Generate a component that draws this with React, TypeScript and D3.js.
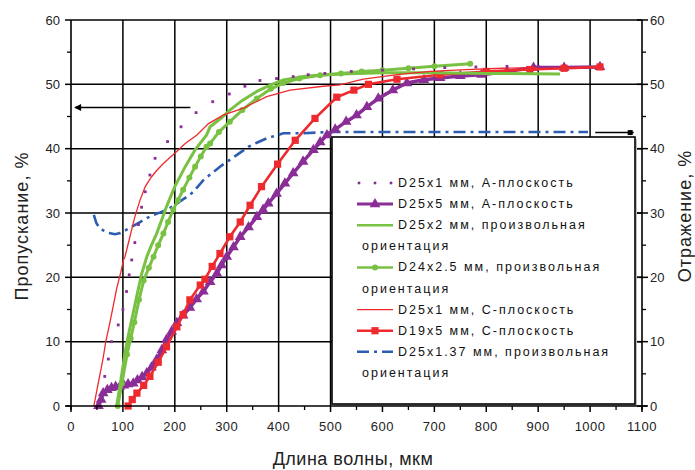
import React from 'react';
import * as d3 from 'd3';

// ---- axis ticks ----
const xTicks = [0, 100, 200, 300, 400, 500, 600, 700, 800, 900, 1000, 1100];
const yTicks = [0, 10, 20, 30, 40, 50, 60];
const xMinor = [50, 150, 250, 350, 450, 550, 650, 750, 850, 950, 1050];
const yMinor = [5, 15, 25, 35, 45, 55];

// ---- series: D25x1 мм, А-плоскость (dots) ----
const aDotWl = [59, 65, 72, 78, 91, 100, 107, 112, 117, 123, 130, 136, 143, 152, 162, 186, 212, 241, 273, 305, 335, 364, 396, 428, 457, 489, 540, 600, 660, 720, 780, 840, 900];
const aDotT = [2, 4.6, 7.3, 10, 12.6, 15, 17.8, 20.4, 22.7, 25.4, 28.2, 30.9, 33.3, 35.9, 38.5, 41.1, 43.4, 45.6, 47.3, 48.5, 49.7, 50.6, 50.9, 51.2, 51.5, 51.7, 52, 52.2, 52.4, 52.6, 52.7, 52.8, 52.8];

// ---- D25x5 мм, А-плоскость (triangles) ----
const aTriWl = [53, 58, 62, 70, 78, 86, 94, 102, 110, 120, 128, 137, 146, 155, 165, 175, 184, 194, 204, 216, 229, 242, 255, 268, 281, 290, 300, 313, 326, 342, 358, 370, 380, 396, 412, 428, 447, 467, 480, 493, 509, 530, 550, 570, 592, 620, 647, 680, 711, 750, 791, 840, 891, 950, 1019];
const aTriT = [0, 1, 2, 2.5, 2.8, 3, 3, 3.2, 3.4, 3.5, 4, 4.5, 5.1, 6, 7.2, 8.7, 10.3, 11.6, 12.9, 14.1, 15.3, 16.6, 17.8, 19.3, 20.6, 21.9, 23.2, 24.7, 26.3, 27.8, 29.4, 30.5, 31.5, 33, 34.6, 36.2, 38, 39.8, 41, 42.1, 43, 44.2, 45.2, 46.5, 47.8, 49.1, 50.2, 50.7, 51, 51.3, 51.5, 52, 52.6, 52.6, 52.7];

// ---- D25x2 мм, произвольная ориентация (plain green) ----
const g2Wl = [88, 96, 104, 110, 117, 127, 136, 146, 155, 165, 175, 184, 200, 220, 239, 261, 268, 290, 306, 330, 358, 385, 409, 454, 518, 600, 700, 800, 942];
const g2T = [0, 4, 8.2, 10.8, 13.4, 17.2, 20.5, 23.2, 25, 26.8, 29, 31, 34.1, 37.2, 39.8, 42.1, 43.4, 44.8, 46, 47.5, 48.9, 49.9, 50.7, 51.3, 51.6, 51.8, 51.8, 51.7, 51.6];

// ---- D24x2.5 мм, произвольная ориентация (green circles) ----
const g25Wl = [90, 98, 108, 115, 122, 131, 140, 150, 159, 168, 178, 187, 197, 206, 216, 228, 239, 250, 261, 268, 285, 306, 330, 358, 385, 409, 440, 480, 520, 560, 600, 650, 700, 769];
const g25T = [0, 3.5, 8, 10.5, 13, 16.5, 19.5, 21.5, 23.2, 25, 26.8, 28.6, 30.5, 32, 33.6, 35.5, 37.2, 38.8, 40.3, 40.8, 42.6, 44.2, 46, 47.8, 49.3, 50.2, 50.9, 51.4, 51.7, 52, 52.2, 52.5, 52.8, 53.2];

// ---- D25x1 мм, С-плоскость (thin red) ----
const c1Wl = [44, 50, 56, 62, 67, 75, 82, 88, 96, 101, 104, 112, 118, 123, 133, 143, 155, 165, 178, 190, 200, 220, 242, 265, 293, 332, 377, 422, 486, 518, 563, 628, 692, 760, 830, 900];
const c1T = [0, 2.5, 5, 7.5, 10, 13, 15.8, 18.3, 20.8, 22.7, 23.2, 25.8, 27.8, 29.4, 32, 34.1, 35.6, 36.6, 37.7, 38.6, 39.3, 40.8, 42.1, 43.9, 45.2, 46.3, 48.1, 49.1, 49.7, 49.9, 50.8, 51.5, 52, 52.3, 52.5, 52.6];

// ---- D19x5 мм, С-плоскость (red squares) ----
const c5Wl = [110, 118, 127, 140, 152, 168, 184, 204, 216, 229, 249, 258, 272, 287, 306, 326, 345, 367, 398, 432, 470, 512, 545, 573, 628, 711, 800, 884, 950, 1019];
const c5T = [0, 1, 2, 3.2, 4.6, 6.8, 9.2, 12.3, 14.2, 16.5, 18.8, 19.7, 21.7, 23.7, 26.3, 28.6, 31.2, 34.1, 37.6, 41.3, 44.7, 48, 49.1, 50, 50.8, 51.5, 52, 52.3, 52.5, 52.7];

// ---- D25x1.37 мм, произвольная ориентация (blue dash-dot, reflection) ----
const bWl = [44, 49, 55, 62, 72, 85, 95, 107, 120, 133, 146, 159, 172, 184, 197, 210, 223, 236, 255, 270, 287, 303, 319, 342, 360, 377, 393, 409, 447, 500, 600, 700, 800, 900, 996];
const bR = [29.7, 28.4, 27.7, 27.3, 26.9, 26.7, 26.9, 27.4, 28, 28.6, 29.2, 29.7, 30.1, 30.5, 31.1, 31.8, 32.5, 33.3, 35.1, 36.1, 37.2, 38.1, 39, 40.3, 41, 41.6, 42, 42.4, 42.4, 42.6, 42.6, 42.6, 42.6, 42.6, 42.6];

// ---- arrows (data units) ----
const leftArrow = [230, 8, 46.4];
const rightArrow = [1010, 1084, 42.5];

// ---- legend ----
const legendNames = [
  ['D25x1 мм, А-плоскость'],
  ['D25x5 мм, А-плоскость'],
  ['D25x2 мм, произвольная', 'ориентация'],
  ['D24x2.5 мм, произвольная', 'ориентация'],
  ['D25x1 мм, С-плоскость'],
  ['D19x5 мм, С-плоскость'],
  ['D25x1.37 мм, произвольная', 'ориентация'],
];

const PURPLE = '#8a2d96';
const GREEN = '#79c142';
const RED = '#ee2a2e';
const BLUE = '#2c5db0';
const FONT = '"Liberation Sans", Arial, sans-serif';
const DASH = '12,5,3,5';

export default function App() {
  const x = d3.scaleLinear().domain([0, 1100]).range([71, 642]);
  const y = d3.scaleLinear().domain([0, 60]).range([406, 20]);
  const mkLine = (wl: number[], v: number[]) =>
    d3.line<number>().x((d) => x(d)).y((_, i) => y(v[i]))(wl) as string;
  const tri = d3.symbol(d3.symbolTriangle, 50)() as string;
  const sq = d3.symbol(d3.symbolSquare, 52)() as string;
  const circ = d3.symbol(d3.symbolCircle, 28)() as string;

  const [x0, x1] = x.range();
  const [yb, yt] = y.range();

  // legend layout
  const lgX = 332, lgY = 137, lgW = 303, lgH = 267;
  const rowH = 21.1;
  let row = 0;
  const legendRows: { i: number; lines: string[]; y0: number }[] = [];
  legendNames.forEach((lines, i) => {
    legendRows.push({ i, lines, y0: 183 + row * rowH });
    row += lines.length;
  });
  const sx0 = 357, sx1 = 393, tx = 398, tx2 = 362;

  const sample = (i: number, cy: number) => {
    const mid = (sx0 + sx1) / 2;
    switch (i) {
      case 0:
        return [sx0 + 2, mid, sx1 - 2].map((px, k) => (
          <rect key={k} x={px - 1.3} y={cy - 1.3} width={2.6} height={2.6} fill={PURPLE} />
        ));
      case 1:
        return (
          <g>
            <line x1={sx0} x2={sx1} y1={cy} y2={cy} stroke={PURPLE} strokeWidth={3} />
            <path d={tri} transform={`translate(${mid},${cy})`} fill={PURPLE} />
          </g>
        );
      case 2:
        return <line x1={sx0} x2={sx1} y1={cy} y2={cy} stroke={GREEN} strokeWidth={2.5} />;
      case 3:
        return (
          <g>
            <line x1={sx0} x2={sx1} y1={cy} y2={cy} stroke={GREEN} strokeWidth={2.5} />
            <path d={circ} transform={`translate(${mid},${cy})`} fill={GREEN} />
          </g>
        );
      case 4:
        return <line x1={sx0} x2={sx1} y1={cy} y2={cy} stroke={RED} strokeWidth={1.3} />;
      case 5:
        return (
          <g>
            <line x1={sx0} x2={sx1} y1={cy} y2={cy} stroke={RED} strokeWidth={2.5} />
            <path d={sq} transform={`translate(${mid},${cy})`} fill={RED} />
          </g>
        );
      default:
        return <line x1={sx0} x2={sx1} y1={cy} y2={cy} stroke={BLUE} strokeWidth={2.5} strokeDasharray={DASH} />;
    }
  };

  return (
    <svg width={695} height={470} style={{ position: 'absolute', left: 0, top: 0, background: '#fff' }} fontFamily={FONT}>
      <rect x={0} y={0} width={695} height={470} fill="#fff" />
      {/* grid */}
      {yTicks.filter((t) => t > 0).map((t) => (
        <line key={'gy' + t} x1={x0} x2={x1} y1={y(t)} y2={y(t)} stroke="#000" strokeWidth={1.5} />
      ))}
      {xTicks.filter((t) => t > 0 && t < 1100).map((t) => (
        <line key={'gx' + t} x1={x(t)} x2={x(t)} y1={yt} y2={yb} stroke="#000" strokeWidth={1.5} />
      ))}

      {/* series */}
      <path d={mkLine(bWl, bR)} fill="none" stroke={BLUE} strokeWidth={2.6} strokeDasharray={DASH} />
      <path d={mkLine(aTriWl, aTriT)} fill="none" stroke={PURPLE} strokeWidth={3.5} />
      {aTriWl.map((w, i) => (
        <path key={'t' + i} d={tri} transform={`translate(${x(w)},${y(aTriT[i])})`} fill={PURPLE} />
      ))}
      <path d={mkLine(c5Wl, c5T)} fill="none" stroke={RED} strokeWidth={2.6} />
      {c5Wl.map((w, i) => (
        <path key={'s' + i} d={sq} transform={`translate(${x(w)},${y(c5T[i])})`} fill={RED} />
      ))}
      <path d={mkLine(g2Wl, g2T)} fill="none" stroke={GREEN} strokeWidth={3} />
      <path d={mkLine(g25Wl, g25T)} fill="none" stroke={GREEN} strokeWidth={3} />
      {g25Wl.map((w, i) => (
        <path key={'c' + i} d={circ} transform={`translate(${x(w)},${y(g25T[i])})`} fill={GREEN} />
      ))}
      <path d={mkLine(c1Wl, c1T)} fill="none" stroke={RED} strokeWidth={1.3} />
      {aDotWl.map((w, i) => (
        <rect key={'d' + i} x={x(w) - 1.4} y={y(aDotT[i]) - 1.4} width={2.8} height={2.8} fill={PURPLE} />
      ))}

      {/* arrows */}
      <line x1={x(leftArrow[0])} x2={x(leftArrow[1])} y1={y(leftArrow[2])} y2={y(leftArrow[2])} stroke="#000" strokeWidth={1.5} />
      <path d={`M${x(leftArrow[1]) - 1},${y(leftArrow[2])} l7,-3.5 l0,7 z`} fill="#000" />
      <line x1={x(rightArrow[0])} x2={x(rightArrow[1])} y1={y(rightArrow[2])} y2={y(rightArrow[2])} stroke="#000" strokeWidth={1.5} />
      <rect x={x(rightArrow[1]) - 6} y={y(rightArrow[2]) - 2.5} width={5} height={5} fill="#000" />

      {/* legend */}
      <rect x={lgX + 2} y={lgY + 2} width={lgW} height={lgH} fill="#bdbdbd" />
      <rect x={lgX} y={lgY} width={lgW} height={lgH} fill="#fff" stroke="#000" strokeWidth={1.6} />
      {legendRows.map((r) => (
        <g key={'lg' + r.i}>
          {sample(r.i, r.y0)}
          {r.lines.map((t, k) => (
            <text
              key={k}
              x={k === 0 ? tx : tx2}
              y={r.y0 + k * rowH}
              dominantBaseline="central"
              fontSize={12.5}
              letterSpacing={2}
              fill="#111"
            >
              {t}
            </text>
          ))}
        </g>
      ))}

      {/* axes */}
      <line x1={x0} x2={x0} y1={yt} y2={yb + 4} stroke="#000" strokeWidth={1.6} />
      <line x1={x1} x2={x1} y1={yt} y2={yb + 4} stroke="#000" strokeWidth={1.6} />
      <line x1={x0 - 5} x2={x1 + 5} y1={yb} y2={yb} stroke="#000" strokeWidth={1.6} />
      {yTicks.map((t) => (
        <g key={'yt' + t}>
          <line x1={x0 - 6} x2={x0} y1={y(t)} y2={y(t)} stroke="#000" strokeWidth={1.5} />
          <line x1={x1 - 5} x2={x1 + 6} y1={y(t)} y2={y(t)} stroke="#000" strokeWidth={1.5} />
          <text x={x0 - 11} y={y(t)} textAnchor="end" dominantBaseline="central" fontSize={13} fill="#222">
            {t}
          </text>
          <text x={x1 + 8} y={y(t)} textAnchor="start" dominantBaseline="central" fontSize={13} fill="#222">
            {t}
          </text>
        </g>
      ))}
      {yMinor.map((t) => (
        <g key={'ym' + t}>
          <line x1={x0 - 4} x2={x0} y1={y(t)} y2={y(t)} stroke="#000" strokeWidth={1.3} />
          <line x1={x1} x2={x1 + 4} y1={y(t)} y2={y(t)} stroke="#000" strokeWidth={1.3} />
        </g>
      ))}
      {xTicks.map((t) => (
        <g key={'xt' + t}>
          <line x1={x(t)} x2={x(t)} y1={yb} y2={yb + 6} stroke="#000" strokeWidth={1.5} />
          <text x={x(t)} y={yb + 20} textAnchor="middle" dominantBaseline="central" fontSize={13} letterSpacing={0.5} fill="#222">
            {t}
          </text>
        </g>
      ))}
      {xMinor.map((t) => (
        <line key={'xm' + t} x1={x(t)} x2={x(t)} y1={yb} y2={yb + 4} stroke="#000" strokeWidth={1.3} />
      ))}

      {/* axis titles */}
      <text transform="translate(22,226) rotate(-90)" textAnchor="middle" dominantBaseline="central" fontSize={18} letterSpacing={1} fill="#222">
        Пропускание, %
      </text>
      <text transform="translate(685,216) rotate(-90)" textAnchor="middle" dominantBaseline="central" fontSize={18} letterSpacing={1} fill="#222">
        Отражение, %
      </text>
      <text x={353} y={459} textAnchor="middle" dominantBaseline="central" fontSize={18} letterSpacing={0.5} fill="#222">
        Длина волны, мкм
      </text>
    </svg>
  );
}
